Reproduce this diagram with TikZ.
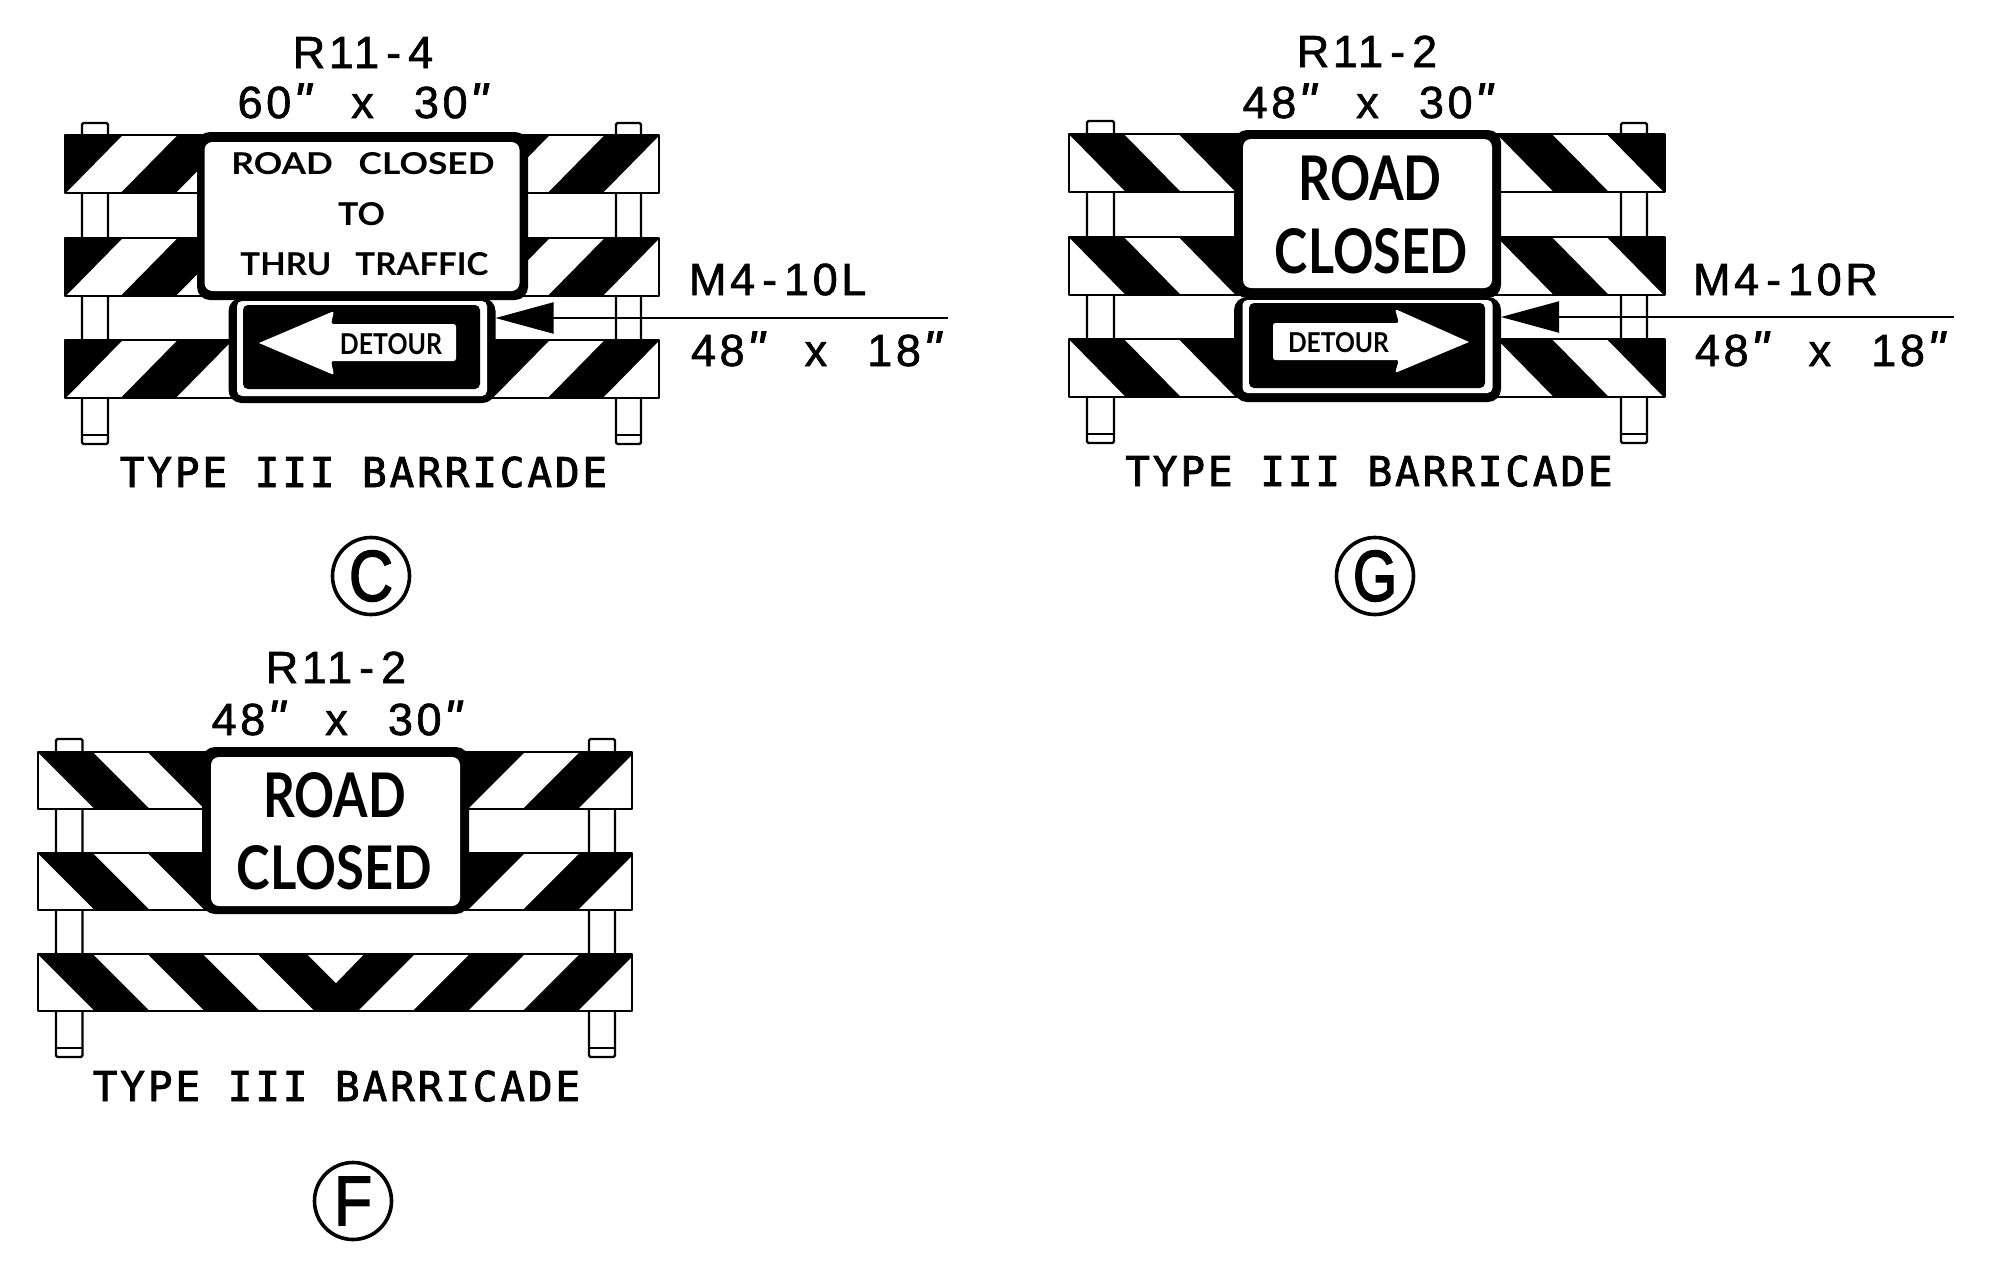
\documentclass[tikz,border=0pt]{standalone}
\usepackage{fontspec}
\usepackage{graphicx}
\usetikzlibrary{arrows.meta}
\setmainfont{Liberation Sans}
\newfontfamily\lblfont[LetterSpace=8,FakeBold=1.4]{Liberation Sans}
\newfontfamily\circfont[FakeBold=2.5]{Liberation Sans}
\newfontfamily\typefont[LetterSpace=7,FakeBold=2]{DejaVu Sans Mono}
\newfontfamily\signfont{Lato}
\newcommand{\dq}{\hspace{2pt}{\fontsize{50}{50}\itshape"}}
\newcommand{\xgap}{\ \ \hspace{8pt}}
\newcommand{\dashgap}{\hspace{7pt}-\hspace{7pt}}
\newcommand{\fitsign}[3]{\resizebox{#1pt}{#2pt}{\signfont\bfseries #3}}
\newcommand{\fitcirc}[3]{\resizebox{#1pt}{#2pt}{\circfont #3}}
% hazard bar: x0 x1 ytop ybot list of white stripes (bottom-left x / direction)
\newcommand{\hazardbar}[5]{%
  \fill[black] (#1,#3) rectangle (#2,#4);
  \begin{scope}
    \clip (#1,#3) rectangle (#2,#4);
    \foreach \xb/\dd in {#5} {
      \fill[white] (\xb,#4) -- ({\xb+54.5},#4) -- ({\xb+54.5+\dd*57},#3) -- ({\xb+\dd*57},#3) -- cycle;
    }
  \end{scope}
  \draw[line width=2.4pt,line join=round] (#1,#3) rectangle (#2,#4);
}
% post: x0 x1 ytop ybot
\newcommand{\barricadepost}[4]{%
  \draw[line width=2.4pt,fill=white,rounded corners=1.5pt] (#1,#3) rectangle (#2,#4);
  \draw[line width=2pt] (#1,{#4-9}) -- (#2,{#4-9});
}
\tikzset{
  lbl/.style={anchor=base,inner sep=0pt,outer sep=0pt,font=\fontsize{45}{45}\lblfont},
  lblw/.style={anchor=base west,inner sep=0pt,outer sep=0pt,font=\fontsize{45}{45}\lblfont},
  typelbl/.style={anchor=base,inner sep=0pt,outer sep=0pt,font=\fontsize{41}{41}\typefont},
  circ/.style={circle,draw,line width=3.6pt,inner sep=0pt,outer sep=0pt,minimum size=77pt},
  box/.style={rectangle,inner sep=0pt,outer sep=0pt},
  blackplate/.style={box,fill=black,rounded corners=13pt},
  whiteplate/.style={box,fill=white,rounded corners=8pt},
  blackpanel/.style={box,fill=black,rounded corners=5pt},
  signtxt/.style={inner sep=0pt,outer sep=0pt,anchor=base},
  leader/.style={line width=2pt,-{Triangle[length=58pt,width=31pt,inset=0pt]}},
}
\begin{document}
\begin{tikzpicture}[x=1pt,y=-1pt]
\useasboundingbox (0,0) rectangle (1990,1272);
\fill[white] (0,0) rectangle (1990,1272);

%%% PANEL C
\barricadepost{82}{108}{123}{444}
\barricadepost{616}{641}{123}{444}
\hazardbar{65}{659}{135}{193}{66/1,176/1,493/1,603/1}
\hazardbar{65}{659}{238}{296}{66/1,176/1,493/1,603/1}
\hazardbar{65}{659}{340}{398}{66/1,176/1,493/1,603/1}
\node[blackplate,minimum width=331pt,minimum height=168pt] (signC) at (362.5,216) {};
\node[whiteplate,minimum width=315pt,minimum height=149pt] (faceC) at (362,216.5) {};
\node[signtxt] (c1) at (363,174) {\fitsign{263}{22}{ROAD\ \ \ CLOSED}};
\node[signtxt] (c2) at (361.5,225) {\fitsign{47}{23}{TO}};
\node[signtxt] (c3) at (364.5,275) {\fitsign{248}{23}{THRU\ \ \ TRAFFIC}};
\node[blackplate,minimum width=267pt,minimum height=105pt] (detC) at (362,350.5) {};
\node[whiteplate,rounded corners=5pt,minimum width=250pt,minimum height=95pt] (detCw) at (362,348.5) {};
\node[blackpanel,minimum width=237pt,minimum height=84pt] (detCk) at (361.5,347) {};
\fill[white] (259,343) [rounded corners=2.5pt] -- (334,311) -- (331,324) -- (456,324) -- (456,361) -- (331,361) -- (334,375) [sharp corners] -- cycle;
\node[signtxt] (cd) at (391,354) {\fitsign{102}{21}{\textcolor{black}{DETOUR}}};
\node[lbl] (cname) at (363,68) {R11\dashgap 4};
\node[lbl] (csize) at (362.5,118) {60\dq\xgap x\xgap 30\dq};
\node[lblw] (cm) at (689,295) {M4\dashgap 10L};
\node[lblw] (cms) at (691,366) {48\dq\xgap x\xgap 18\dq};
\coordinate (cend) at (948,318);
\draw[leader] (cend) -- (detC.east |- cend);
\node[typelbl] (ct) at (363.5,487) {TYPE III BARRICADE};
\node[circ] (cc) at (371,576) {\fitcirc{44}{50}{C}};

%%% PANEL G
\barricadepost{1087}{1114}{121}{443}
\barricadepost{1621}{1647}{123}{443}
\hazardbar{1069}{1664.5}{134}{192}{1071/-1,1181/-1,1499/-1,1609/-1}
\hazardbar{1069}{1664.5}{237}{295}{1071/-1,1181/-1,1499/-1,1609/-1}
\hazardbar{1069}{1664.5}{339}{397}{1071/-1,1181/-1,1499/-1,1609/-1}
\node[blackplate,minimum width=267pt,minimum height=168pt] (signG) at (1367.5,214) {};
\node[whiteplate,minimum width=249pt,minimum height=149pt] (faceG) at (1367.5,213.5) {};
\node[signtxt] (g1) at (1370,200) {\fitsign{143}{45}{ROAD}};
\node[signtxt] (g2) at (1371.5,273) {\fitsign{193}{45}{CLOSED}};
\node[blackplate,minimum width=267pt,minimum height=105pt] (detG) at (1367.5,349.5) {};
\node[whiteplate,rounded corners=5pt,minimum width=250pt,minimum height=93pt] (detGw) at (1367.5,346.5) {};
\node[blackpanel,minimum width=236pt,minimum height=85pt] (detGk) at (1367,345.5) {};
\fill[white] (1469,342) [rounded corners=2.5pt] -- (1395,309) -- (1399,323) -- (1273,323) -- (1273,360) -- (1399,360) -- (1395,373) [sharp corners] -- cycle;
\node[signtxt] (gd) at (1338.5,352) {\fitsign{101}{20}{\textcolor{black}{DETOUR}}};
\node[lbl] (gname) at (1367,67) {R11\dashgap 2};
\node[lbl] (gsize) at (1367.5,118) {48\dq\xgap x\xgap 30\dq};
\node[lblw] (gm) at (1693,295) {M4\dashgap 10R};
\node[lblw] (gms) at (1695,366) {48\dq\xgap x\xgap 18\dq};
\coordinate (gend) at (1954,317);
\draw[leader] (gend) -- (detG.east |- gend);
\node[typelbl] (gt) at (1369,486) {TYPE III BARRICADE};
\node[circ] (gc) at (1375,576) {\fitcirc{44}{50}{G}};

%%% PANEL F
\barricadepost{56}{82.5}{739}{1057}
\barricadepost{589}{615}{739}{1057}
\hazardbar{38}{632}{752}{809}{40/-1,150/-1,468/1,578/1}
\hazardbar{38}{632}{853}{910}{40/-1,150/-1,468/1,578/1}
\hazardbar{38}{632}{954}{1011}{40/-1,150/-1,260/-1,358/1,468/1,578/1}
\fill[white] (308,955.2) -- (363,955.2) -- (336,983) -- cycle;
\node[blackplate,minimum width=267pt,minimum height=167pt] (signF) at (335.5,830.5) {};
\node[whiteplate,minimum width=249pt,minimum height=149pt] (faceF) at (335.5,831.5) {};
\node[signtxt] (f1) at (334.7,817) {\fitsign{142.5}{45}{ROAD}};
\node[signtxt] (f2) at (334.5,889) {\fitsign{195}{44}{CLOSED}};
\node[lbl] (fname) at (336,683) {R11\dashgap 2};
\node[lbl] (fsize) at (336.5,735) {48\dq\xgap x\xgap 30\dq};
\node[typelbl] (ft) at (336.5,1101) {TYPE III BARRICADE};
\node[circ] (fc) at (353,1201) {\fitcirc{38}{48}{F}};
\end{tikzpicture}
\end{document}
